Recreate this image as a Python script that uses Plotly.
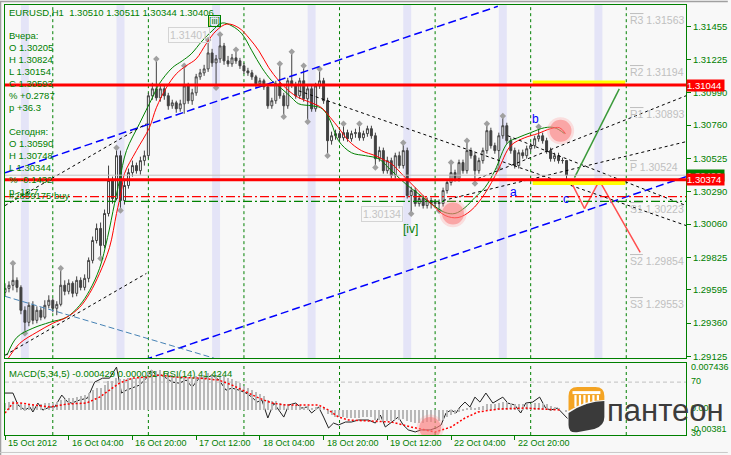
import plotly.graph_objects as go

# ============================ DATA ============================
header_text = "EURUSD,H1  1.30510 1.30511 1.30344 1.30406"
yesterday_lines = ["Вчера:", "O 1.30205", "H 1.30824", "L 1.30154", "C 1.30593", "% +0.2787", "p +36.3"]
today_lines = ["Сегодня:", "O 1.30590", "H 1.30748", "L 1.30344", "% -0.1432", "p -18.7"]
order_label = "#2859175 buy"
macd_label = "MACD(5,34,5) -0.000429 0.000031  RSI(14) 41.4244"

first_open = 1.29577
close = [1.29605, 1.29627, 1.29662, 1.29612, 1.29450, 1.29365, 1.29485, 1.29379, 1.29450, 1.29401,
         1.29485, 1.29521, 1.29464, 1.29492, 1.29627, 1.29584, 1.29641, 1.29570, 1.29662, 1.29612,
         1.29676, 1.29803, 1.29944, 1.30029, 1.29909, 1.30135, 1.30368, 1.30241, 1.30544, 1.30227,
         1.30333, 1.30424, 1.30474, 1.30438, 1.30509, 1.30544, 1.30968, 1.31017, 1.30954, 1.31017,
         1.30968, 1.30897, 1.30918, 1.30876, 1.30911, 1.31038, 1.30933, 1.30989, 1.31102, 1.31130,
         1.31158, 1.31271, 1.31201, 1.31229, 1.31321, 1.31215, 1.31194, 1.31236, 1.31215, 1.31180,
         1.31144, 1.31130, 1.31102, 1.31053, 1.31074, 1.31031, 1.30897, 1.30933, 1.31053, 1.30968,
         1.30897, 1.31074, 1.31046, 1.30968, 1.31074, 1.30947, 1.31017, 1.30876, 1.31038, 1.31074,
         1.30933, 1.30650, 1.30685, 1.30700, 1.30671, 1.30707, 1.30664, 1.30700, 1.30707, 1.30671,
         1.30700, 1.30735, 1.30685, 1.30523, 1.30580, 1.30438, 1.30509, 1.30403, 1.30544, 1.30474,
         1.30580, 1.30262, 1.30297, 1.30205, 1.30241, 1.30191, 1.30227, 1.30205, 1.30213, 1.30205,
         1.30297, 1.30354, 1.30424, 1.30382, 1.30495, 1.30438, 1.30580, 1.30544, 1.30438, 1.30509,
         1.30580, 1.30721, 1.30615, 1.30580, 1.30685, 1.30756, 1.30650, 1.30580, 1.30474, 1.30565,
         1.30544, 1.30593, 1.30615, 1.30664, 1.30685, 1.30650, 1.30580, 1.30523, 1.30544, 1.30509,
         1.30510, 1.30406]
high = [1.29641, 1.29655, 1.29782, 1.29683, 1.29627, 1.29478, 1.29507, 1.29514, 1.29478, 1.29471,
        1.29521, 1.29556, 1.29535, 1.29514, 1.29747, 1.29662, 1.29669, 1.29655, 1.29690, 1.29683,
        1.29704, 1.29824, 1.29972, 1.30064, 1.30071, 1.30163, 1.30474, 1.30396, 1.30601, 1.30580,
        1.30382, 1.30453, 1.30509, 1.30495, 1.30537, 1.30580, 1.30989, 1.31060, 1.31229, 1.31046,
        1.31038, 1.30989, 1.30940, 1.30933, 1.30940, 1.31180, 1.31060, 1.31017, 1.31123, 1.31158,
        1.31187, 1.31363, 1.31300, 1.31257, 1.31401, 1.31342, 1.31250, 1.31264, 1.31293, 1.31236,
        1.31201, 1.31166, 1.31151, 1.31116, 1.31095, 1.31088, 1.31046, 1.30954, 1.31074, 1.31194,
        1.30989, 1.31095, 1.31279, 1.31067, 1.31095, 1.31180, 1.31038, 1.31038, 1.31060, 1.31158,
        1.31095, 1.30954, 1.30714, 1.30728, 1.30721, 1.30770, 1.30728, 1.30721, 1.30735, 1.30770,
        1.30721, 1.30756, 1.30756, 1.30707, 1.30608, 1.30601, 1.30537, 1.30530, 1.30565, 1.30573,
        1.30636, 1.30601, 1.30325, 1.30318, 1.30269, 1.30262, 1.30248, 1.30248, 1.30234, 1.30234,
        1.30318, 1.30375, 1.30495, 1.30445, 1.30516, 1.30516, 1.30650, 1.30601, 1.30565, 1.30530,
        1.30601, 1.30770, 1.30742, 1.30636, 1.30707, 1.30824, 1.30777, 1.30671, 1.30601, 1.30587,
        1.30587, 1.30615, 1.30636, 1.30685, 1.30748, 1.30707, 1.30671, 1.30601, 1.30565, 1.30565,
        1.30530, 1.30511]
low = [1.29549, 1.29577, 1.29591, 1.29577, 1.29422, 1.29288, 1.29337, 1.29351, 1.29358, 1.29379,
       1.29387, 1.29464, 1.29436, 1.29415, 1.29478, 1.29556, 1.29563, 1.29542, 1.29549, 1.29591,
       1.29591, 1.29648, 1.29782, 1.29923, 1.29817, 1.29888, 1.30114, 1.30205, 1.30227, 1.30156,
       1.30198, 1.30311, 1.30396, 1.30417, 1.30410, 1.30474, 1.30523, 1.30940, 1.30933, 1.30926,
       1.30940, 1.30869, 1.30876, 1.30848, 1.30855, 1.30841, 1.30911, 1.30904, 1.30968, 1.31081,
       1.31109, 1.31137, 1.31173, 1.31024, 1.31201, 1.31187, 1.31173, 1.31173, 1.31194, 1.31158,
       1.31123, 1.31109, 1.31081, 1.31031, 1.31031, 1.31010, 1.30876, 1.30876, 1.30911, 1.30947,
       1.30820, 1.30876, 1.31024, 1.30947, 1.30947, 1.30926, 1.30784, 1.30855, 1.30855, 1.31017,
       1.30911, 1.30544, 1.30622, 1.30657, 1.30650, 1.30650, 1.30643, 1.30643, 1.30671, 1.30650,
       1.30650, 1.30678, 1.30664, 1.30460, 1.30502, 1.30417, 1.30417, 1.30382, 1.30382, 1.30453,
       1.30453, 1.30241, 1.30134, 1.30184, 1.30184, 1.30170, 1.30170, 1.30170, 1.30184, 1.30154,
       1.30184, 1.30276, 1.30333, 1.30361, 1.30361, 1.30417, 1.30417, 1.30523, 1.30347, 1.30417,
       1.30488, 1.30558, 1.30594, 1.30558, 1.30453, 1.30664, 1.30629, 1.30558, 1.30453, 1.30453,
       1.30523, 1.30523, 1.30573, 1.30594, 1.30643, 1.30629, 1.30558, 1.30502, 1.30502, 1.30488,
       1.30488, 1.30344]

fractal_up = [2, 14, 28, 38, 45, 51, 54, 58, 69, 72, 75, 79, 85, 89, 100, 112, 116, 121, 125, 134]
fractal_down = [5, 24, 29, 53, 70, 76, 81, 93, 102, 109, 118, 124]

red_ma_x = [0.5, 3.75, 8, 12, 15.5, 18.75, 21.25, 23.75, 26.25, 28, 29.25, 30, 33, 36.25, 38, 40.5, 43, 45.5,
            48, 50.5, 53, 55.75, 58.75, 61.25, 63.75, 66.25, 68.75, 71.25, 73.75, 77, 79.5, 81.75, 83.75,
            86.25, 89.5, 93, 95.5, 97, 100.5, 103.75, 107, 110.5, 113.75, 117, 120.5, 123.75, 127, 130.5,
            133.75, 137, 139.25, 140.75]
red_ma_y = [1.29097, 1.29217, 1.29295, 1.29358, 1.29401, 1.29471, 1.29570, 1.29711, 1.29895, 1.30135,
            1.30297, 1.30417, 1.30580, 1.30742, 1.30883, 1.31024, 1.31123, 1.31180, 1.31229, 1.31335,
            1.31427, 1.31476, 1.31448, 1.31377, 1.31286, 1.31166, 1.31074, 1.31003, 1.30954, 1.30918,
            1.30883, 1.30812, 1.30742, 1.30650, 1.30580, 1.30544, 1.30509, 1.30488, 1.30389, 1.30297,
            1.30205, 1.30121, 1.30106, 1.30156, 1.30276, 1.30438, 1.30615, 1.30671, 1.30700, 1.30735,
            1.30742, 1.30700]
green_ma_x = [0.5, 3, 7, 11.25, 15.5, 18.75, 21.25, 23.75, 25.75, 27.5, 28.75, 30.5, 33.75, 37, 38.75, 42,
              44.5, 46.75, 49.5, 52, 54.5, 57, 59.5, 62, 64.5, 67, 69.5, 72, 73.75, 77, 79.25, 80.75, 82,
              83.75, 87, 90.5, 93.75, 96.25, 100.5, 103.75, 107, 110.5, 113, 115.5, 118, 120.5, 123,
              126.25, 128.75, 132, 135.5, 138, 140.5]
green_ma_y = [1.29132, 1.29259, 1.29323, 1.29365, 1.29401, 1.29485, 1.29591, 1.29747, 1.29965, 1.30205,
              1.30368, 1.30580, 1.30770, 1.30954, 1.31053, 1.31166, 1.31215, 1.31264, 1.31356, 1.31427,
              1.31483, 1.31462, 1.31406, 1.31286, 1.31166, 1.31074, 1.31017, 1.30954, 1.30911, 1.30897,
              1.30883, 1.30841, 1.30770, 1.30650, 1.30565, 1.30544, 1.30523, 1.30460, 1.30347, 1.30276,
              1.30205, 1.30142, 1.30135, 1.30177, 1.30248, 1.30318, 1.30438, 1.30636, 1.30671, 1.30707,
              1.30742, 1.30742, 1.30700]

x_tick_pos = [0, 16, 32, 48, 64, 80, 96, 112, 128]
x_tick_text = ["15 Oct 2012", "16 Oct 04:00", "16 Oct 20:00", "17 Oct 12:00", "18 Oct 04:00",
               "18 Oct 20:00", "19 Oct 12:00", "22 Oct 04:00", "22 Oct 20:00"]
day_breaks = [12, 36, 60, 84, 108, 132, 156]
session_bands = [4, 28, 52, 76, 100, 124, 148]

price_tick_vals = [1.31455, 1.31225, 1.30990, 1.30760, 1.30525, 1.30290, 1.30060, 1.29825, 1.29595,
                   1.29360, 1.29125]
price_tick_text = ["1.31455", "1.31225", "1.30990", "1.30760", "1.30525", "1.30290", "1.30060",
                   "1.29825", "1.29595", "1.29360", "1.29125"]

resistance_level = 1.31044
support_level = 1.30374
bid_level = 1.30406
order_level_red = 1.30255
order_level_green = 1.30220

pivot_names = ["R3", "R2", "R1", "P", "S1", "S2", "S3"]
pivot_vals = [1.31563, 1.31194, 1.30893, 1.30524, 1.30223, 1.29854, 1.29553]

channel_up_x, channel_up_y = [0, 123.75], [1.30423, 1.31601]
channel_lo_x, channel_lo_y = [35, 171], [1.29100, 1.30395]
steel_x, steel_y = [0, 52.5], [1.29549, 1.29111]
dot1_x, dot1_y = [0, 35.5], [1.29132, 1.29711]
dot2_x, dot2_y = [0, 35.5], [1.30191, 1.30770]
dot3_x, dot3_y = [73.75, 171], [1.31003, 1.30050]
dot4_x, dot4_y = [126.25, 171], [1.30685, 1.30191]
dot5_x, dot5_y = [118.75, 171], [1.30382, 1.30968]
dot6_x, dot6_y = [110, 171], [1.30227, 1.30643]
proj_up_x, proj_up_y = [143, 154.25], [1.30389, 1.31017]
proj_dn_x, proj_dn_y = [142, 145.5, 149.25, 159.5], [1.30368, 1.30170, 1.30368, 1.29859]

wave_labels = ["[iii]", "[iv]", "b", "a", "c"]
wave_x = [52.5, 101.75, 133.25, 127.75, 140.75]
wave_y = [1.31497, 1.30022, 1.30806, 1.30290, 1.30234]
extreme_labels = ["1.31401", "1.30134"]
extreme_x = [46.25, 94.75]
extreme_y = [1.31399, 1.30128]

macd_hist = [0.0012, 0.0013, 0.0014, 0.0013, 0.0010, 0.0008, 0.0009, 0.0008, 0.0009, 0.0009,
             0.0011, 0.0012, 0.0012, 0.0013, 0.0017, 0.0018, 0.0020, 0.0019, 0.0021, 0.0022,
             0.0025, 0.0028, 0.0033, 0.0036, 0.0036, 0.0041, 0.0047, 0.0048, 0.0053, 0.0050,
             0.0051, 0.0052, 0.0053, 0.0052, 0.0054, 0.0055, 0.0062, 0.0065, 0.0064, 0.0065,
             0.0063, 0.0060, 0.0058, 0.0055, 0.0054, 0.0056, 0.0054, 0.0054, 0.0056, 0.0057,
             0.0058, 0.0060, 0.0059, 0.0058, 0.0059, 0.0055, 0.0052, 0.0050, 0.0047, 0.0044,
             0.0040, 0.0036, 0.0033, 0.0029, 0.0026, 0.0022, 0.0017, 0.0015, 0.0015, 0.0012,
             0.0009, 0.0010, 0.0010, 0.0008, 0.0008, 0.0005, 0.0006, 0.0003, 0.0004, 0.0005,
             0.0003, -0.0006, -0.0009, -0.0011, -0.0012, -0.0012, -0.0013, -0.0013, -0.0013, -0.0013,
             -0.0012, -0.0012, -0.0012, -0.0016, -0.0016, -0.0018, -0.0018, -0.0019, -0.0017, -0.0017,
             -0.0015, -0.0019, -0.0020, -0.0021, -0.0021, -0.0021, -0.0020, -0.0020, -0.0019, -0.0019,
             -0.0016, -0.0012, -0.0008, -0.0006, -0.0003, -0.0001, 0.0003, 0.0004, 0.0003, 0.0004,
             0.0006, 0.0009, 0.0010, 0.0010, 0.0011, 0.0013, 0.0013, 0.0012, 0.0009, 0.0009,
             0.0009, 0.0010, 0.0010, 0.0011, 0.0012, 0.0011, 0.0009, 0.0006, 0.0004, 0.0002,
             0.0000, -0.0004]
signal_x = [0, 2, 3.75, 7, 11.25, 15.5, 20.5, 23.75, 26.25, 28.75, 32, 35.5, 38.75, 43, 48.75, 53.75, 57,
            60.5, 63.75, 67, 70.5, 75.5, 78.75, 81.25, 83.75, 86.25, 90.5, 97, 102, 108, 112, 115.5,
            118.75, 123.75, 130.5, 137, 139.5]
signal_y = [-0.0005, 0.00115, 0.00115, 0.00082, 0.00049, 0.00098, 0.00115, 0.00213, 0.00328, 0.00443,
            0.00524, 0.00541, 0.00574, 0.00541, 0.00524, 0.00492, 0.00410, 0.00295, 0.00197, 0.00115,
            0.00082, 0.00082, 0.00082, 0.0, -0.00115, -0.00164, -0.00180, -0.00197, -0.00279, -0.00361,
            -0.00279, -0.00131, -0.00033, 0.00016, 0.00033, 0.00016, 0.0]
rsi_x = [0, 2, 3.25, 5, 6.25, 7, 8.25, 9.5, 11.25, 12.5, 14.25, 15.75, 16.75, 18.75, 20.75, 22.5, 24.5,
         26.25, 28, 29.25, 30.5, 32, 33.75, 35.5, 36.75, 38, 39.25, 40.5, 42, 43.75, 45.5, 47, 48.75,
         50.5, 52, 53.75, 55.5, 57, 58.75, 60.5, 62, 63.25, 64.5, 66, 67.5, 68.75, 70, 71.25, 73, 74.5,
         75.75, 77, 78.75, 80, 81.25, 82.5, 83.75, 85.5, 87, 88.75, 91.25, 93, 94.25, 95.5, 97, 98.75,
         100, 101.25, 103, 104.5, 106.75, 108.25, 109.5, 110.75, 112, 113.25, 114.25, 115.5, 116.75,
         118, 119.25, 120.75, 122.5, 123.75, 125, 126.25, 128, 129.5, 130.75, 132.5, 134.25, 135.75,
         137, 138.75, 140.5, 141.25]
rsi_v = [61.4, 61.4, 52.0, 48.0, 50.4, 46.5, 53.5, 48.0, 50.4, 50.4,
         59.8, 54.3, 53.5, 55.9, 57.5, 70.0, 73.1, 73.1, 81.8, 61.4,
         63.7, 65.3, 67.6, 73.1, 79.4, 75.5, 75.5, 73.1, 70.0, 69.2,
         71.6, 66.1, 73.1, 73.1, 75.5, 71.6, 63.7, 65.3, 63.7, 61.4,
         58.2, 54.3, 55.9, 41.8, 53.5, 48.0, 42.5, 52.0, 53.5, 49.6,
         50.4, 45.7, 50.4, 42.5, 33.9, 37.8, 36.3, 38.6, 38.6, 40.2,
         40.2, 37.8, 44.1, 34.7, 38.6, 42.5, 36.3, 32.4, 30.8, 32.4,
         32.4, 33.9, 36.3, 45.7, 48.0, 45.7, 50.4, 54.3, 50.4, 58.2,
         54.3, 61.4, 53.5, 55.9, 58.2, 53.5, 52.0, 45.7, 53.5, 54.3,
         58.2, 49.6, 48.0, 49.6, 44.1, 41.4]
rsi_level = 70
sub_axis_labels = ["0.007436", "70", "0.00", "-0.00381", "30"]
logo_word = "пантеон"

# ============================ LAYOUT HELPERS ============================
GREEN = "#008000"
SANS = "Liberation Sans, Arial, sans-serif"
SMALL = 9.5   # info text size
AX = 9        # axis label size
W, H = 731, 455
ML, MR, MT, MB = 5, 42, 4, 20
PW, PH = W - ML - MR, H - MT - MB
XMAX = 171
PRICE_MIN, PRICE_MAX = 1.291111, 1.316103
RSI_MIN, RSI_MAX = 28.4, 84.9
MACD_MIN, MACD_MAX = -0.0041, 0.0077


def fx(px):
    return (px - ML) / PW


def fy(py):
    return (H - MB - py) / PH


def txt(s, xp, yp, size=SMALL, color=GREEN, family=SANS, xanchor="left", yanchor="middle", **kw):
    return dict(text=s, x=fx(xp), y=fy(yp), xref="paper", yref="paper", showarrow=False,
                xanchor=xanchor, yanchor=yanchor, font=dict(size=size, color=color, family=family), **kw)


def pth(cmds):
    out = []
    for c in cmds:
        if c[0] == "Z":
            out.append("Z")
        elif c[0] in "ML":
            out.append(f"{c[0]} {fx(c[1]):.5f},{fy(c[2]):.5f}")
        elif c[0] == "Q":
            out.append(f"Q {fx(c[1]):.5f},{fy(c[2]):.5f} {fx(c[3]):.5f},{fy(c[4]):.5f}")
    return " ".join(out)


n = len(close)
idx = list(range(n))
opens = [first_open] + close[:-1]

fig = go.Figure()

fig.add_trace(go.Candlestick(
    x=idx, open=opens, high=high, low=low, close=close, xaxis="x", yaxis="y",
    increasing=dict(line=dict(color="#404040", width=1), fillcolor="#ffffff"),
    decreasing=dict(line=dict(color="#404040", width=1), fillcolor="#404040"),
    whiskerwidth=0, hoverinfo="skip", showlegend=False))

fig.add_trace(go.Scatter(x=fractal_up, y=[high[i] for i in fractal_up], mode="markers",
                         marker=dict(symbol="diamond", size=5, color="#a0a0a0"), hoverinfo="skip"))
fig.add_trace(go.Scatter(x=fractal_down, y=[low[i] for i in fractal_down], mode="markers",
                         marker=dict(symbol="diamond", size=5, color="#a0a0a0"), hoverinfo="skip"))

fig.add_trace(go.Scatter(x=green_ma_x, y=green_ma_y, mode="lines",
                         line=dict(color="#008000", width=1, shape="spline"), hoverinfo="skip"))
fig.add_trace(go.Scatter(x=red_ma_x, y=red_ma_y, mode="lines",
                         line=dict(color="#ff0000", width=1, shape="spline"), hoverinfo="skip"))


def tline(xs, ys, color, dash, width):
    fig.add_trace(go.Scatter(x=xs, y=ys, mode="lines", line=dict(color=color, dash=dash, width=width),
                             hoverinfo="skip"))


tline(channel_up_x, channel_up_y, "#0000ff", "8px,4px", 1.5)
tline(channel_lo_x, channel_lo_y, "#0000ff", "8px,4px", 1.5)
tline(steel_x, steel_y, "#4682b4", "6px,3px", 1)
for xs, ys in [(dot1_x, dot1_y), (dot2_x, dot2_y), (dot3_x, dot3_y), (dot4_x, dot4_y),
               (dot5_x, dot5_y), (dot6_x, dot6_y)]:
    tline(xs, ys, "#000000", "3px,3px", 1)
tline(proj_up_x, proj_up_y, "#3a9a3a", "solid", 1.5)
tline(proj_dn_x, proj_dn_y, "#ff5050", "solid", 1.5)

fig.add_trace(go.Bar(x=idx, y=macd_hist, xaxis="x2", yaxis="y3", width=0.28,
                     marker=dict(color="#b8b8b8", line=dict(width=0)), hoverinfo="skip"))
fig.add_trace(go.Scatter(x=signal_x, y=signal_y, xaxis="x2", yaxis="y3", mode="lines",
                         line=dict(color="#ff0000", dash="2px,2px", width=1.5), hoverinfo="skip"))
fig.add_trace(go.Scatter(x=rsi_x, y=rsi_v, xaxis="x2", yaxis="y2", mode="lines",
                         line=dict(color="#202020", width=1), hoverinfo="skip"))

# ============================ SHAPES ============================
shapes = []
shapes.append(dict(type="line", xref="paper", yref="paper", x0=fx(0), x1=fx(W), y0=fy(0.5), y1=fy(0.5),
                   line=dict(color="#a0a0a0", width=1.5)))
shapes.append(dict(type="line", xref="paper", yref="paper", x0=fx(0.5), x1=fx(0.5), y0=fy(0), y1=fy(H),
                   line=dict(color="#a0a0a0", width=1.5)))
shapes.append(dict(type="line", xref="paper", yref="paper", x0=fx(0), x1=fx(W), y0=fy(452.5), y1=fy(452.5),
                   line=dict(color="#c8c8c8", width=1)))
for s in session_bands:
    shapes.append(dict(type="rect", xref="x", yref="y domain", x0=s, x1=s + 2, y0=0, y1=1,
                       fillcolor="#e4e4f7", line=dict(width=0), layer="below"))
for d in day_breaks:
    for yr in ["y domain", "y2 domain"]:
        shapes.append(dict(type="line", xref="x", yref=yr, x0=d, x1=d, y0=0, y1=1,
                           line=dict(color=GREEN, width=1, dash="3px,3px"), layer="below"))
shapes.append(dict(type="line", xref="x domain", yref="y", x0=0, x1=1, y0=order_level_red, y1=order_level_red,
                   line=dict(color="#ff0000", width=1.2, dash="9px,3px,2px,3px")))
shapes.append(dict(type="line", xref="x domain", yref="y", x0=0, x1=1, y0=order_level_green,
                   y1=order_level_green, line=dict(color=GREEN, width=1.2, dash="9px,3px,2px,3px")))
shapes.append(dict(type="line", xref="x domain", yref="y", x0=0, x1=1, y0=bid_level, y1=bid_level,
                   line=dict(color="#c0c0c0", width=1)))
shapes.append(dict(type="line", xref="x", yref="y", x0=132.5, x1=155.75, y0=resistance_level + 0.00014,
                   y1=resistance_level + 0.00014, line=dict(color="#ffff00", width=5)))
shapes.append(dict(type="line", xref="x", yref="y", x0=132.5, x1=155.75, y0=support_level - 0.00020,
                   y1=support_level - 0.00020, line=dict(color="#ffff00", width=5)))
for lv in [resistance_level, support_level]:
    shapes.append(dict(type="line", xref="x domain", yref="y", x0=0, x1=1, y0=lv, y1=lv,
                       line=dict(color="#ff0000", width=3)))
for (x0, x1, y0, y1, yr) in [(109.75, 115.25, 1.30057, 1.30213, "y"),
                             (136.75, 142.25, 1.30643, 1.30798, "y"),
                             (104.0, 109.5, 25.3, 42.5, "y2")]:
    dx, dy = (x1 - x0) * 0.12, (y1 - y0) * 0.12
    xr = "x" if yr == "y" else "x2"
    shapes.append(dict(type="circle", xref=xr, yref=yr, x0=x0 - dx, x1=x1 + dx,
                       y0=y0 - dy, y1=y1 + dy, fillcolor="rgba(255,140,140,0.25)", line=dict(width=0)))
    shapes.append(dict(type="circle", xref=xr, yref=yr, x0=x0, x1=x1, y0=y0, y1=y1,
                       fillcolor="rgba(250,120,120,0.55)", line=dict(width=0)))
shapes.append(dict(type="line", xref="x2 domain", yref="y2", x0=0, x1=1, y0=rsi_level, y1=rsi_level,
                   line=dict(color="#c0c0c0", width=1, dash="4px,3px"), layer="below"))

# logo icon
shapes.append(dict(type="path", xref="paper", yref="paper", fillcolor="#f4a424", line=dict(width=0),
                   path=pth([("M", 571, 411), ("L", 571, 396), ("Q", 571, 387, 580, 387), ("L", 598, 387),
                             ("Q", 607, 387, 607, 396), ("L", 607, 400), ("Q", 588, 400, 571, 411), ("Z",)])))
shapes.append(dict(type="path", xref="paper", yref="paper", fillcolor="#3a3a3a", line=dict(width=0),
                   path=pth([("M", 571, 413), ("Q", 589, 401, 607, 401), ("L", 607, 417),
                             ("Q", 607, 426, 597, 429), ("L", 581, 432), ("Q", 571, 434, 571, 425), ("Z",)])))
shapes.append(dict(type="rect", xref="paper", yref="paper", x0=fx(575), x1=fx(603), y0=fy(394), y1=fy(391),
                   fillcolor="#ffffff", line=dict(width=0)))
for cx in [578, 582.5, 587, 591.5, 596, 600.5]:
    yb = 409 - (cx - 571) * 0.3
    shapes.append(dict(type="rect", xref="paper", yref="paper", x0=fx(cx - 1.1), x1=fx(cx + 1.1),
                       y0=fy(yb), y1=fy(395), fillcolor="#ffffff", line=dict(width=0)))

# ============================ ANNOTATIONS ============================
ann = []
ann.append(txt(header_text, 7, 12))
for k, s in enumerate(yesterday_lines):
    ann.append(txt(s, 7, 35 + 12 * k))
for k, s in enumerate(today_lines):
    ann.append(txt(s, 7, 131 + 12 * k))
ann.append(txt(order_label, 7, 195))
ann.append(txt(macd_label, 7, 373))

for p, s in zip(x_tick_pos, x_tick_text):
    ann.append(dict(text=s, x=p, xref="x2", y=fy(443), yref="paper", showarrow=False, xanchor="left",
                    yanchor="middle", xshift=1, font=dict(size=AX, color=GREEN, family=SANS)))

wave_colors = [GREEN, GREEN, "#0000ff", "#0000ff", "#0000ff"]
for s, x, y, c in zip(wave_labels, wave_x, wave_y, wave_colors):
    extra = dict(bordercolor=GREEN, borderwidth=1, borderpad=0) if s == "[iii]" else {}
    ann.append(dict(text=s, x=x, y=y, xref="x", yref="y", showarrow=False,
                    font=dict(size=9 if s == "[iii]" else 12, color=c, family=SANS), **extra))
for s, x, y in zip(extreme_labels, extreme_x, extreme_y):
    ann.append(dict(text=s, x=x, y=y, xref="x", yref="y", showarrow=False, bordercolor="#d4d4d4",
                    borderwidth=1, borderpad=1, font=dict(size=10.5, color="#c4c4c4", family=SANS)))

for nm, v in zip(pivot_names, pivot_vals):
    ann.append(dict(text=f'<span style="text-decoration:overline">{nm}</span> {v:.5f}', x=156.5, y=v,
                    xref="x", yref="y", showarrow=False, xanchor="left", yanchor="top",
                    font=dict(size=10.5, color="#c0c0c0", family=SANS)))

for v, bg in [(resistance_level, "#ff0000"), (bid_level, GREEN), (support_level, "#ff0000")]:
    ann.append(dict(text=f"{v:.5f}&nbsp;", x=1.0, y=v, xref="paper", yref="y", showarrow=False,
                    xanchor="left", yanchor="middle", bgcolor=bg, borderpad=0, xshift=0,
                    font=dict(size=AX + 0.5, color="#ffffff", family=SANS)))

for s, yp in zip(sub_axis_labels, [367, 381, 408, 429, 433]):
    ann.append(txt(s, 692, yp, size=AX))

ann.append(txt(logo_word, 608, 410, size=31, color="#3c3c3c", family=SANS))

# ============================ LAYOUT ============================
axis_common = dict(showgrid=False, zeroline=False, showline=True, mirror=True, linecolor=GREEN, linewidth=1)
fig.update_layout(
    width=W, height=H, margin=dict(l=ML, r=MR, t=MT, b=MB),
    paper_bgcolor="#f8f8f8", plot_bgcolor="#f8f8f8", showlegend=False, bargap=0,
    xaxis=dict(domain=[0, 1], anchor="y", range=[0, XMAX], showticklabels=False, ticks="",
               rangeslider=dict(visible=False), **axis_common),
    yaxis=dict(domain=[fy(358), 1], anchor="x", side="right", range=[PRICE_MIN, PRICE_MAX],
               tickvals=price_tick_vals, ticktext=price_tick_text, ticks="outside", ticklen=4,
               tickcolor=GREEN, tickfont=dict(size=AX + 0.5, color=GREEN, family=SANS), **axis_common),
    xaxis2=dict(domain=[0, 1], anchor="y2", range=[0, XMAX], tickvals=x_tick_pos, ticks="outside",
                ticklen=4, tickcolor=GREEN, showticklabels=False, rangeslider=dict(visible=False),
                **axis_common),
    yaxis2=dict(domain=[0, fy(363)], anchor="x2", side="right", range=[RSI_MIN, RSI_MAX],
                showticklabels=False, ticks="", **axis_common),
    yaxis3=dict(overlaying="y2", anchor="x2", side="right", range=[MACD_MIN, MACD_MAX], visible=False),
    shapes=shapes, annotations=ann,
)

fig.write_html("out.html", include_plotlyjs=True, config={"displayModeBar": False},
               post_script="document.body.style.margin='0';document.body.style.background='#f8f8f8';")
